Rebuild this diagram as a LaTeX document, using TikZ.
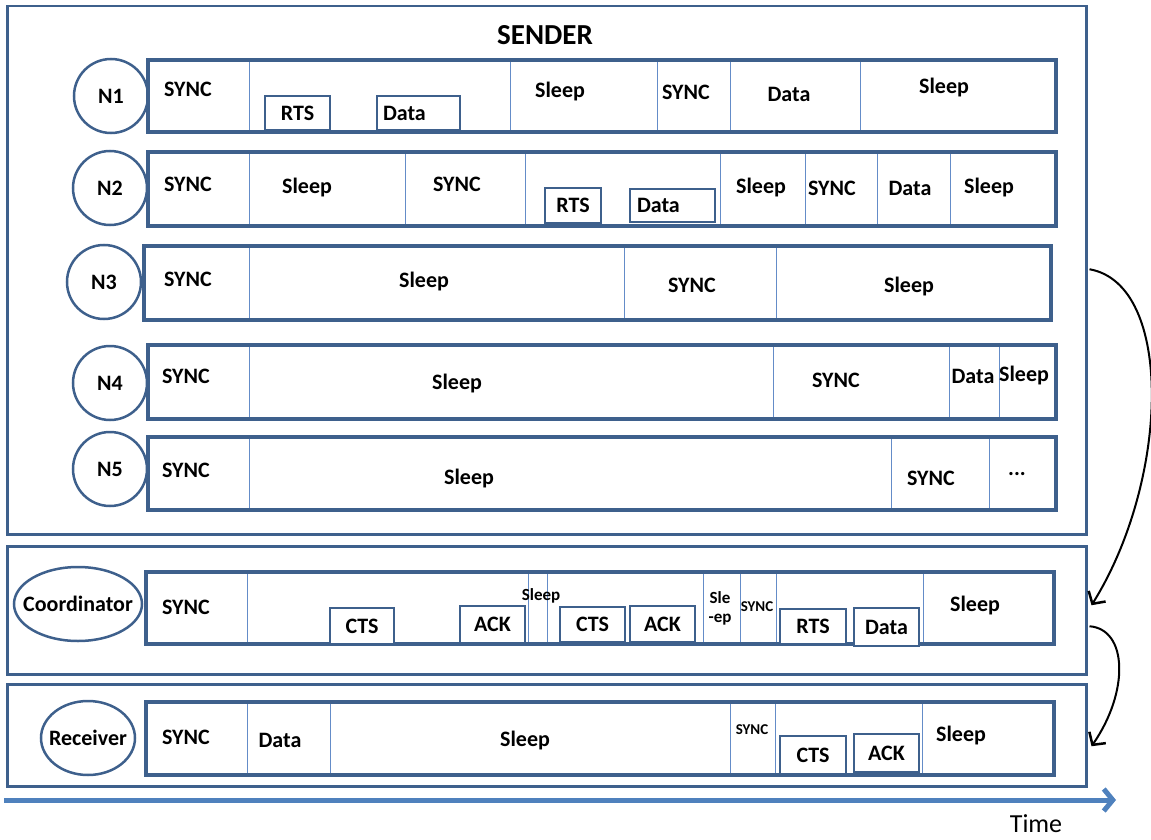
\documentclass[tikz,border=0pt]{standalone}
\usepackage{fontspec}
\setmainfont{Carlito}
\usetikzlibrary{arrows.meta,shapes.geometric}
\definecolor{frame}{RGB}{62,96,140}
\definecolor{divc}{RGB}{100,140,200}
\definecolor{timec}{RGB}{79,129,189}
\tikzset{
  outerbox/.style={draw=frame, line width=2.5pt, anchor=north west, inner sep=0pt, minimum width=1079pt},
  rowline/.style={draw=frame, line width=3.2pt},
  divider/.style={draw=divc, line width=0.8pt},
  lbl/.style={font=\bfseries\fontsize{22}{25}\selectfont, inner sep=0pt},
  small/.style={font=\bfseries\fontsize{17}{19}\selectfont, inner sep=0pt},
  tiny/.style={font=\bfseries\fontsize{15}{17}\selectfont, inner sep=0pt},
  pkt/.style={draw=frame, line width=2.8pt, fill=white, inner sep=0pt, font=\bfseries\fontsize{22}{25}\selectfont},
  circ/.style={circle, draw=frame, line width=2.5pt, minimum size=74pt, inner sep=0pt, font=\bfseries\fontsize{22}{25}\selectfont},
  ell/.style={ellipse, draw=frame, line width=2.5pt, minimum height=74pt, inner ysep=0pt, font=\bfseries\fontsize{22}{25}\selectfont},
  curvearrow/.style={draw=black, line width=2pt, -{Straight Barb[length=9pt,width=20pt,line width=2.5pt]}},
  timearrow/.style={draw=timec, line width=5pt, -{Straight Barb[length=9pt,width=22pt,line width=5pt]}}
}
\begin{document}
\begin{tikzpicture}[x=1pt,y=-1pt]
\useasboundingbox (0,0) rectangle (1151,840);
% outer boxes
\node[outerbox, minimum height=528pt] (sender) at (6,5) {};
\node[outerbox, minimum height=128pt] (coord) at (6,545) {};
\node[outerbox, minimum height=102pt] (recv) at (6,683) {};
\node[font=\bfseries\fontsize{29}{33}\selectfont, inner sep=0pt] (title) at (545,35) {SENDER};

% ---------- N1 ----------
\foreach \x in {249,510,657,730,860} \draw[divider] (\x,60) -- (\x,132);
\draw[rowline] (148,60) rectangle (1056,132);
\node[circ] (N1) at (111,96) {N1};
\node[lbl] (n1a) at (188,89) {SYNC};
\node[pkt, minimum width=65pt, minimum height=34pt] (n1rts) at (297.5,113) {RTS};
\node[pkt, minimum width=83pt, minimum height=34pt, text width=71pt, align=left] (n1data) at (418.5,113) {Data};
\node[lbl] (n1b) at (560,92) {Sleep};
\node[lbl] (n1c) at (686,92) {SYNC};
\node[lbl] (n1d) at (789,94) {Data};
\node[lbl] (n1e) at (944,88) {Sleep};

% ---------- N2 ----------
\foreach \x in {249,405,525,720,805,877,950} \draw[divider] (\x,152) -- (\x,226);
\draw[rowline] (148,152) rectangle (1056,226);
\node[circ] (N2) at (110,188) {N2};
\node[lbl] (n2a) at (188,184) {SYNC};
\node[lbl] (n2b) at (307,188) {Sleep};
\node[lbl] (n2c) at (457,184) {SYNC};
\node[pkt, minimum width=56pt, minimum height=35pt] (n2rts) at (573,205.5) {RTS};
\node[pkt, minimum width=85pt, minimum height=33pt, text width=71pt, align=left] (n2data) at (672.5,205.5) {Data};
\node[lbl] (n2d) at (761,188) {Sleep};
\node[lbl] (n2e) at (832,188) {SYNC};
\node[lbl] (n2f) at (910,188) {Data};
\node[lbl] (n2g) at (989,188) {Sleep};

% ---------- N3 ----------
\foreach \x in {249,624,776} \draw[divider] (\x,246) -- (\x,320);
\draw[rowline] (144,246) rectangle (1051,320);
\node[circ] (N3) at (104,282) {N3};
\node[lbl] (n3a) at (188,279) {SYNC};
\node[lbl] (n3b) at (424,282) {Sleep};
\node[lbl] (n3c) at (692,285) {SYNC};
\node[lbl] (n3d) at (909,287) {Sleep};

% ---------- N4 ----------
\foreach \x in {249,773,949,999} \draw[divider] (\x,345) -- (\x,419);
\draw[rowline] (148,345) rectangle (1056,419);
\node[circ] (N4) at (110,383) {N4};
\node[lbl] (n4a) at (186,376) {SYNC};
\node[lbl] (n4b) at (457,384) {Sleep};
\node[lbl] (n4c) at (836,380) {SYNC};
\node[lbl] (n4d) at (973,376) {Data};
\node[lbl] (n4e) at (1024,376) {Sleep};

% ---------- N5 ----------
\foreach \x in {249,891,989} \draw[divider] (\x,437) -- (\x,510);
\draw[rowline] (148,437) rectangle (1056,510);
\node[circ] (N5) at (110,469) {N5};
\node[lbl] (n5a) at (186,470) {SYNC};
\node[lbl] (n5b) at (469,479) {Sleep};
\node[lbl] (n5c) at (931,478) {SYNC};
\node[lbl] (n5d) at (1017,474) {...};

% ---------- Coordinator ----------
\foreach \x in {247,528,547,703,740,776,923} \draw[divider] (\x,572) -- (\x,644);
\draw[rowline] (146,572) rectangle (1054,644);
\node[ell, minimum width=128pt, inner xsep=-11pt] (C) at (78,604) {Coordinator};
\node[lbl] (ca) at (186,607) {SYNC};
\node[pkt, minimum width=64pt, minimum height=36pt] (ccts1) at (362,626) {CTS};
\node[pkt, minimum width=65pt, minimum height=37pt] (cack1) at (492.5,624.5) {ACK};
\node[small] (cb) at (541,596) {Sleep};
\node[pkt, minimum width=65pt, minimum height=35pt] (ccts2) at (592.5,624.5) {CTS};
\node[pkt, minimum width=65pt, minimum height=36pt] (cack2) at (662.5,624) {ACK};
\node[small] (cc) at (720,598) {Sle};
\node[small] (cd) at (720,620) {-ep};
\node[tiny] (ce) at (757,607) {SYNC};
\node[pkt, minimum width=66pt, minimum height=35pt] (crts) at (813,626.5) {RTS};
\node[pkt, minimum width=65pt, minimum height=38pt] (cdata) at (886.5,627) {Data};
\node[lbl] (cf) at (975,606) {Sleep};

% ---------- Receiver ----------
\foreach \x in {247,330,730,775,922} \draw[divider] (\x,702) -- (\x,775);
\draw[rowline] (146,702) rectangle (1054,775);
\node[ell, minimum width=94pt, inner xsep=-6pt] (R) at (88,738) {Receiver};
\node[lbl] (ra) at (186,737) {SYNC};
\node[lbl] (rb) at (280,740) {Data};
\node[lbl] (rc) at (525,741) {Sleep};
\node[tiny] (rd) at (752,730) {SYNC};
\node[pkt, minimum width=66pt, minimum height=38pt] (rcts) at (813,755) {CTS};
\node[pkt, minimum width=65pt, minimum height=38pt] (rack) at (886.5,753) {ACK};
\node[lbl] (re) at (961,736) {Sleep};

% ---------- connectors ----------
\draw[curvearrow] ([shift={(2,-1)}]sender.east) .. controls +(85,15) and +(78,-125) .. ([shift={(4,-5)}]coord.east);
\draw[curvearrow] ([shift={(2,16)}]coord.east) .. controls +(38,3) and +(38,-55) .. ([shift={(4,11)}]recv.east);

% ---------- time axis ----------
\coordinate (t0) at (4,800);
\coordinate (t1) at (1116,800);
\draw[timearrow] (t0) -- (t1);
\node[font=\fontsize{26}{30}\selectfont, inner sep=0pt] (time) at (1036,824) {Time};
\end{tikzpicture}
\end{document}
